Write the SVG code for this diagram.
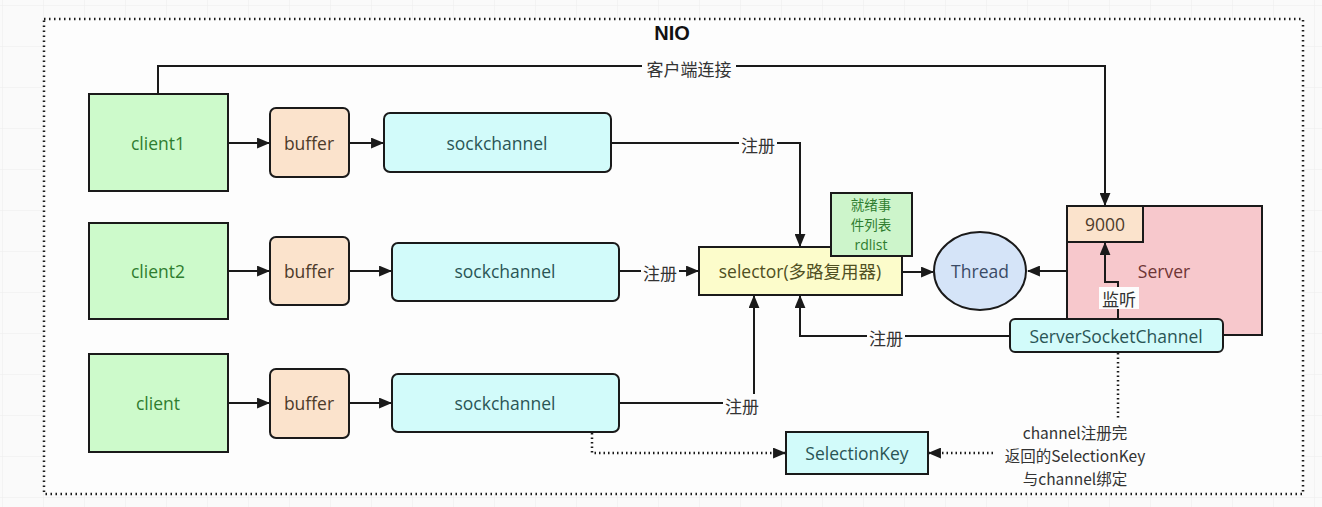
<svg xmlns="http://www.w3.org/2000/svg" width="1322" height="507" viewBox="0 0 1322 507">
<defs>
<pattern id="grid" width="41" height="41" patternUnits="userSpaceOnUse" x="3" y="6">
<path d="M41 0 V41 M0 41 H41" fill="none" stroke="#ececec" stroke-width="1"/>
</pattern>
<marker id="ah" viewBox="0 0 12 10" refX="11" refY="5" markerWidth="13" markerHeight="11" markerUnits="userSpaceOnUse" orient="auto">
<path d="M0 0 L12 5 L0 10 Z" fill="#1a1a1a"/>
</marker>
<style>
.box{stroke:#1a1a1a;stroke-width:2}
.cl{fill:#cdfacb}
.bf{fill:#fbe3cc}
.sc{fill:#d2fbfa}
.t{font-family:"Open Sans","Noto Sans CJK SC",sans-serif;font-size:17.5px;text-anchor:middle;dominant-baseline:central}
.cj{font-family:"Noto Sans CJK SC","Open Sans",sans-serif;font-size:17px;text-anchor:middle;dominant-baseline:central;fill:#333}
.sm{font-family:"Noto Sans CJK SC","Open Sans",sans-serif;font-size:15.5px;text-anchor:middle;dominant-baseline:central;fill:#333}
.rd{font-family:"Noto Sans CJK SC","Open Sans",sans-serif;font-size:13.5px;text-anchor:middle;dominant-baseline:central;fill:#2f7d2f}
.ln{fill:none;stroke:#1a1a1a;stroke-width:2}
.dt{fill:none;stroke:#1a1a1a;stroke-width:2.5;stroke-dasharray:1.5 3}
.lb{fill:#fdfdfd}
</style>
</defs>
<rect width="1322" height="507" fill="#fafafa"/>
<rect width="1322" height="507" fill="url(#grid)"/>
<rect x="44" y="19" width="1259" height="475" fill="#fdfdfd" stroke="#1a1a1a" stroke-width="2.5" stroke-dasharray="1.5 3.5"/>
<text x="672" y="33" font-family="'Liberation Sans',sans-serif" font-size="20" font-weight="bold" text-anchor="middle" dominant-baseline="central" fill="#111">NIO</text>

<g id="connectors">
<path class="ln" d="M158 94 V66 H1105 V205" marker-end="url(#ah)"/>
<rect class="lb" x="642" y="56" width="94" height="22"/>
<text class="cj" x="689" y="68">客户端连接</text>

<path class="ln" d="M228 143 H269" marker-end="url(#ah)"/>
<path class="ln" d="M349 143 H383" marker-end="url(#ah)"/>
<path class="ln" d="M228 271 H269" marker-end="url(#ah)"/>
<path class="ln" d="M349 271 H391" marker-end="url(#ah)"/>
<path class="ln" d="M228 403 H269" marker-end="url(#ah)"/>
<path class="ln" d="M349 403 H391" marker-end="url(#ah)"/>

<path class="ln" d="M611 143 H800 V246" marker-end="url(#ah)"/>
<rect class="lb" x="739" y="133" width="38" height="22"/>
<text class="cj" x="758" y="144">注册</text>

<path class="ln" d="M619 271 H698" marker-end="url(#ah)"/>
<rect class="lb" x="641" y="261" width="38" height="22"/>
<text class="cj" x="660" y="272">注册</text>

<path class="ln" d="M619 403 H754 V296" marker-end="url(#ah)"/>
<rect class="lb" x="723" y="394" width="38" height="22"/>
<text class="cj" x="742" y="405">注册</text>

<path class="ln" d="M1010 336 H800 V296" marker-end="url(#ah)"/>
<rect class="lb" x="867" y="326" width="38" height="22"/>
<text class="cj" x="886" y="337">注册</text>

<path class="ln" d="M902 272 H933" marker-end="url(#ah)"/>
<path class="ln" d="M1067 271 H1028" marker-end="url(#ah)"/>

<path class="dt" d="M592 433 V453 H785" marker-end="url(#ah)"/>
<path class="dt" d="M1118 353 V453 H929" marker-end="url(#ah)"/>
<rect class="lb" x="994" y="420" width="162" height="70"/>
<text class="sm" x="1075" y="432">channel注册完</text>
<text class="sm" x="1075" y="455">返回的SelectionKey</text>
<text class="sm" x="1075" y="478">与channel绑定</text>
</g>

<g id="client1"><rect class="box cl" x="89" y="94" width="139" height="97"/><text class="t" x="158" y="143" fill="#2f7d2f">client1</text></g>
<g id="buffer1"><rect class="box bf" x="270" y="108" width="79" height="69" rx="6"/><text class="t" x="309" y="143" fill="#4d3b2a">buffer</text></g>
<g id="sockchannel1"><rect class="box sc" x="384" y="113" width="227" height="59" rx="6"/><text class="t" x="497" y="143" fill="#2a5555">sockchannel</text></g>

<g id="client2"><rect class="box cl" x="89" y="223" width="139" height="96"/><text class="t" x="158" y="271" fill="#2f7d2f">client2</text></g>
<g id="buffer2"><rect class="box bf" x="270" y="237" width="79" height="68" rx="6"/><text class="t" x="309" y="271" fill="#4d3b2a">buffer</text></g>
<g id="sockchannel2"><rect class="box sc" x="392" y="243" width="227" height="58" rx="6"/><text class="t" x="505" y="271" fill="#2a5555">sockchannel</text></g>

<g id="client"><rect class="box cl" x="89" y="354" width="139" height="98"/><text class="t" x="158" y="403" fill="#2f7d2f">client</text></g>
<g id="buffer3"><rect class="box bf" x="270" y="369" width="79" height="69" rx="6"/><text class="t" x="309" y="403" fill="#4d3b2a">buffer</text></g>
<g id="sockchannel3"><rect class="box sc" x="392" y="374" width="227" height="58" rx="6"/><text class="t" x="505" y="403" fill="#2a5555">sockchannel</text></g>

<g id="selector"><rect class="box" x="699" y="247" width="203" height="48" fill="#fcfccb"/><text class="t" x="800" y="271" fill="#4f4f22">selector(多路复用器)</text></g>
<g id="rdlist"><rect class="box" x="831" y="193" width="81" height="63" fill="#cdf5cb"/>
<text class="rd" x="871" y="204">就绪事</text><text class="rd" x="871" y="224">件列表</text><text class="t" x="871" y="244" fill="#2f7d2f" style="font-size:14px">rdlist</text></g>

<g id="thread"><ellipse class="box" cx="980" cy="271" rx="46" ry="39" fill="#d5e4f8"/><text class="t" x="980" y="271" fill="#3a4a66">Thread</text></g>

<g id="server"><rect class="box" x="1067" y="206" width="195" height="129" fill="#f7c8cc"/><text class="t" x="1164" y="271" fill="#6e3535">Server</text></g>
<g id="port9000"><rect class="box" x="1067" y="206" width="76" height="36" fill="#fbe3cc"/><text class="t" x="1105" y="224" fill="#4d3b2a">9000</text></g>
<g id="listen-conn">
<path class="ln" d="M1118 318 V282 H1105 V243" marker-end="url(#ah)"/>
<rect fill="#fdfdfd" x="1099" y="287" width="40" height="22"/>
<text class="cj" x="1119" y="298">监听</text>
</g>
<g id="serversocketchannel"><rect class="box" x="1010" y="319" width="213" height="33" rx="5" fill="#d2fbfa"/><text class="t" x="1116" y="336" fill="#2a5555">ServerSocketChannel</text></g>

<g id="selectionkey"><rect class="box" x="786" y="432" width="142" height="42" fill="#d2fbfa"/><text class="t" x="857" y="453" fill="#2a5555">SelectionKey</text></g>
</svg>
